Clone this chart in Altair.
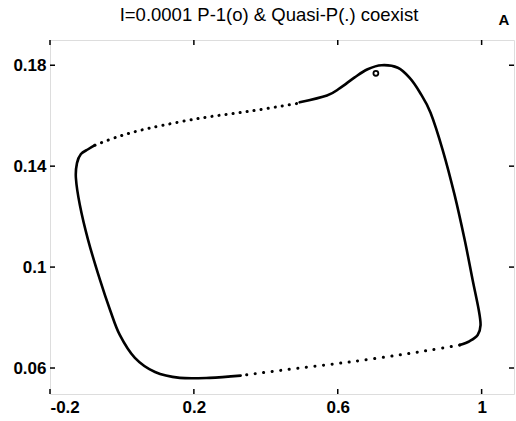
import altair as alt
import pandas as pd

# Orbit outline (x, y), split into solid / dotted runs
solid_top_x = [0.494, 0.570, 0.606, 0.647, 0.683, 0.722, 0.767, 0.800, 0.828, 0.858, 0.892, 0.925, 0.953, 0.975, 0.992, 0.997, 0.989, 0.967, 0.939]
solid_top_y = [0.1653, 0.1680, 0.1709, 0.1752, 0.1784, 0.1800, 0.1790, 0.1750, 0.1693, 0.1612, 0.1463, 0.1285, 0.1107, 0.0949, 0.0830, 0.0770, 0.0731, 0.0707, 0.0691]

dotted_bottom_x = [0.939, 0.856, 0.772, 0.633, 0.494, 0.383, 0.330]
dotted_bottom_y = [0.0691, 0.0671, 0.0652, 0.0624, 0.0600, 0.0580, 0.0570]

solid_left_x = [0.330, 0.244, 0.161, 0.092, 0.036, -0.006, -0.033, -0.061, -0.094, -0.117, -0.128, -0.125, -0.114, -0.094, -0.075]
solid_left_y = [0.0570, 0.0561, 0.0561, 0.0584, 0.0640, 0.0731, 0.0830, 0.0949, 0.1107, 0.1246, 0.1353, 0.1412, 0.1448, 0.1467, 0.1483]

dotted_top_x = [-0.075, -0.006, 0.078, 0.217, 0.356, 0.494]
dotted_top_y = [0.1483, 0.1519, 0.1551, 0.1590, 0.1618, 0.1650]

p1_x = [0.706]
p1_y = [0.1768]

x_ticks = [-0.2, 0.2, 0.6, 1.0]
y_ticks = [0.06, 0.1, 0.14, 0.18]

title_text = ["I=0.0001 P-1(o) & Quasi-P(.) coexist"]
panel_text = ["A"]

rows = []
for name, kind, xs, ys in [
    ("a", "solid", solid_top_x, solid_top_y),
    ("b", "dotted", dotted_bottom_x, dotted_bottom_y),
    ("c", "solid", solid_left_x, solid_left_y),
    ("d", "dotted", dotted_top_x, dotted_top_y),
]:
    for i, (xv, yv) in enumerate(zip(xs, ys)):
        rows.append({"x": xv, "y": yv, "seg": name, "kind": kind, "order": i})
orbit = pd.DataFrame(rows)

xscale = alt.Scale(domain=[-0.2, 1.09], nice=False, zero=False)
yscale = alt.Scale(domain=[0.0497, 0.19], nice=False, zero=False)

xaxis = alt.Axis(values=x_ticks, domain=False, ticks=False, grid=False,
                 labelFont="Liberation Sans", labelFontSize=17, labelFontWeight="bold",
                 labelColor="black", labelPadding=5, title=None,
                 labelExpr="toString(datum.value)")
yaxis = alt.Axis(values=y_ticks, domain=False, ticks=False, grid=False,
                 labelFont="Liberation Sans", labelFontSize=17, labelFontWeight="bold",
                 labelColor="black", labelPadding=4, title=None,
                 labelExpr="toString(datum.value)")

base = alt.Chart(orbit)

solid = base.transform_filter(alt.datum.kind == "solid").mark_line(
    color="black", strokeWidth=2.6, interpolate="cardinal", strokeCap="round"
).encode(
    x=alt.X("x:Q", scale=xscale, axis=xaxis),
    y=alt.Y("y:Q", scale=yscale, axis=yaxis),
    detail="seg:N",
    order="order:Q",
)

dotted_b = base.transform_filter(alt.datum.seg == "b").mark_line(
    color="black", strokeWidth=3, interpolate="cardinal", strokeCap="round",
    strokeDash=[0.1, 8.5]
).encode(
    x=alt.X("x:Q", scale=xscale),
    y=alt.Y("y:Q", scale=yscale),
    order="order:Q",
)

dotted_d = base.transform_filter(alt.datum.seg == "d").mark_line(
    color="black", strokeWidth=3, interpolate="cardinal", strokeCap="round",
    strokeDash=[0.1, 7]
).encode(
    x=alt.X("x:Q", scale=xscale),
    y=alt.Y("y:Q", scale=yscale),
    order="order:Q",
)

p1 = alt.Chart(pd.DataFrame({"x": p1_x, "y": p1_y})).mark_point(
    shape="circle", filled=False, color="black", size=24, strokeWidth=1.8, opacity=1
).encode(x=alt.X("x:Q", scale=xscale), y=alt.Y("y:Q", scale=yscale))

xt = pd.DataFrame({"v": x_ticks})
yt = pd.DataFrame({"v": y_ticks})
W, H, T = 464, 354, 5

tick_bottom = alt.Chart(xt).mark_rule(color="black", strokeWidth=1.5).encode(
    x=alt.X("v:Q", scale=xscale), y=alt.value(H), y2=alt.value(H - T))
tick_top = alt.Chart(xt).mark_rule(color="black", strokeWidth=1.5).encode(
    x=alt.X("v:Q", scale=xscale), y=alt.value(0), y2=alt.value(T))
tick_left = alt.Chart(yt).mark_rule(color="black", strokeWidth=1.5).encode(
    y=alt.Y("v:Q", scale=yscale), x=alt.value(0), x2=alt.value(T))
tick_right = alt.Chart(yt).mark_rule(color="black", strokeWidth=1.5).encode(
    y=alt.Y("v:Q", scale=yscale), x=alt.value(W), x2=alt.value(W - T))

title_mark = alt.Chart(pd.DataFrame({"t": title_text})).mark_text(
    font="Liberation Sans", fontSize=18.5, fontWeight="normal", color="black",
    align="center", baseline="alphabetic"
).encode(text="t:N", x=alt.value(219), y=alt.value(-19))

panel_tag = alt.Chart(pd.DataFrame({"t": panel_text})).mark_text(
    font="Liberation Sans", fontSize=15, fontWeight="bold", color="black",
    align="center", baseline="alphabetic"
).encode(text="t:N", x=alt.value(454), y=alt.value(-15))

chart = alt.layer(
    solid, dotted_b, dotted_d, p1, tick_bottom, tick_top, tick_left, tick_right,
    title_mark, panel_tag
).properties(
    width=W, height=H,
    autosize=alt.AutoSizeParams(type="none"),
    padding={"left": 50, "top": 40, "right": 2, "bottom": 27},
).configure_view(
    stroke="black", strokeWidth=2
).configure(background="white")

chart.save("out.html", embed_options={"renderer": "svg", "actions": False})
